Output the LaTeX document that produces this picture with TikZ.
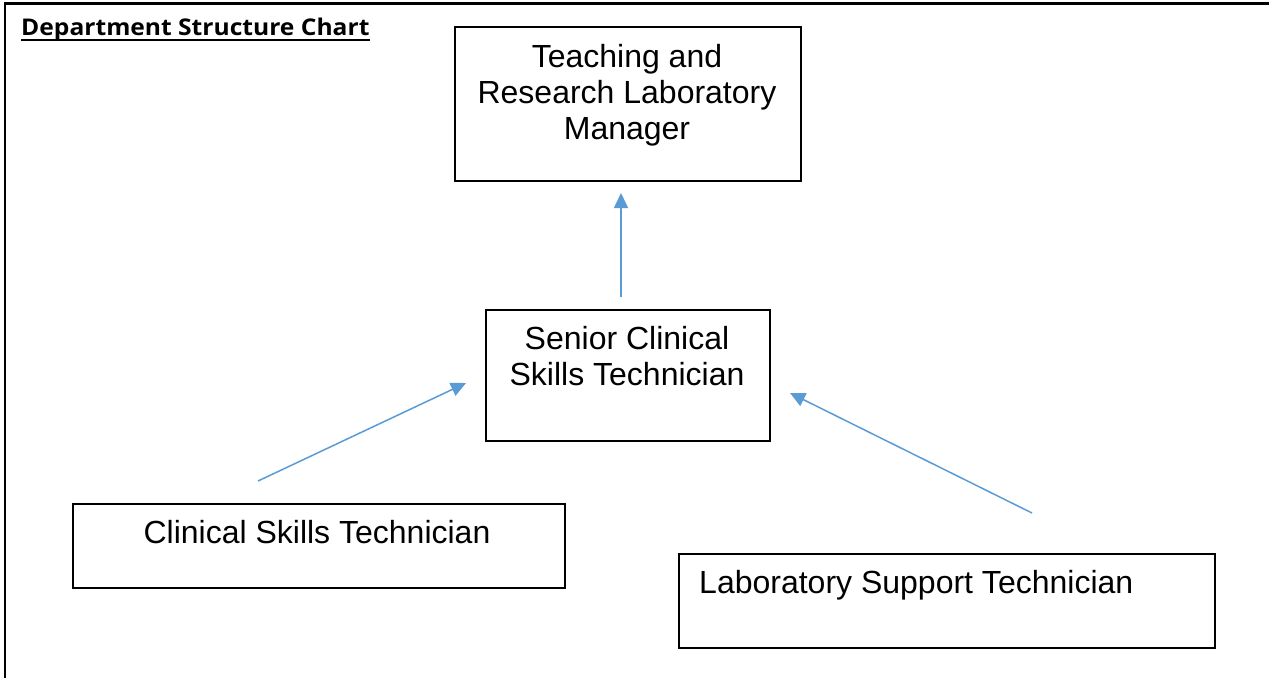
\documentclass[tikz,border=0pt]{standalone}
\usepackage{fontspec}
\setmainfont{Liberation Sans}
\newfontfamily\titlefont[FakeStretch=1.07]{Open Sans}
\usetikzlibrary{arrows.meta}
\definecolor{arrowblue}{RGB}{91,155,213}
\tikzset{
  box/.style={draw=black, line width=2pt, inner sep=0pt, anchor=north west},
  lbl/.style={inner sep=0pt, font=\fontsize{32}{36}\selectfont},
  conn/.style={draw=arrowblue, line width=1.5pt, -{Triangle[length=15pt,width=14pt]}}
}
\begin{document}
\begin{tikzpicture}[x=1pt,y=-1pt]
\useasboundingbox (0,0) rectangle (1269,678);
% frame
\coordinate (ftl) at (5,3);
\coordinate (ftr) at (1269,3);
\coordinate (fbl) at (5,678);
\draw[line width=3pt] ([xshift=-1pt]ftl) -- (ftr);
\draw[line width=2pt] ([yshift=1.5pt]ftl) -- (fbl);
% title
\node[inner sep=0pt, anchor=base west, font=\titlefont\bfseries\fontsize{23}{26}\selectfont] (title) at (21,35) {Department Structure Chart};
\draw[line width=2pt] ([yshift=-4.5pt]title.base west) -- ([yshift=-4.5pt]title.base east);
% boxes
\node[box, minimum width=346pt, minimum height=154pt] (mgr) at (454,26) {};
\node[box, minimum width=284pt, minimum height=131pt] (snr) at (485,309) {};
\node[box, minimum width=492pt, minimum height=84pt] (cst) at (72,503) {};
\node[box, minimum width=536pt, minimum height=94pt] (lst) at (678,553) {};
% texts
\node[lbl, align=center, anchor=north] (mgrt) at (627,44) {Teaching and\\Research Laboratory\\Manager};
\node[lbl, align=center, anchor=north] (snrt) at (627,326) {Senior Clinical\\Skills Technician};
\node[lbl, anchor=base] (cstt) at (317,543) {Clinical Skills Technician};
\node[lbl, anchor=base west] (lstt) at (699,593) {Laboratory Support Technician};
% connectors
\coordinate (a1s) at (621,297);
\coordinate (a1e) at (621,193);
\coordinate (a2s) at (258,481);
\coordinate (a2e) at (466,383);
\coordinate (a3s) at (1032,513);
\coordinate (a3e) at (790,393);
\draw[conn] (a1s) -- (a1e);
\draw[conn] (a2s) -- (a2e);
\draw[conn] (a3s) -- (a3e);
\end{tikzpicture}
\end{document}
